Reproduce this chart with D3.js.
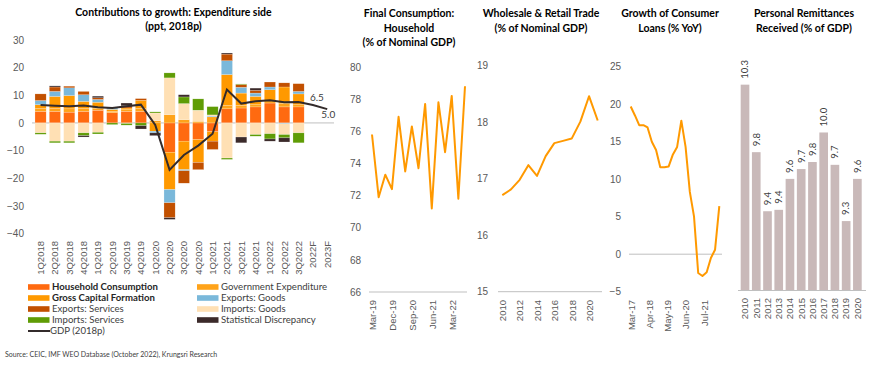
<!DOCTYPE html>
<html>
<head>
<meta charset="utf-8">
<script src="https://cdn.jsdelivr.net/npm/d3@7"></script>
<style>
  body { margin: 0; background: #fff; }
  svg { font-family: Lato, "Open Sans", sans-serif; }
</style>
</head>
<body>
<div id="wrapper"></div>
<script>
// ---- data: contributions to growth (ppt) ----
const quarters = ["1Q2018","2Q2018","3Q2018","4Q2018","1Q2019","2Q2019","3Q2019","4Q2019",
  "1Q2020","2Q2020","3Q2020","4Q2020","1Q2021","2Q2021","3Q2021","4Q2021",
  "1Q2022","2Q2022","3Q2022","2022F","2023F"]
const barQuarters = quarters.slice(0, 19) // forecasts have no breakdown
const householdConsumption = [4.2,4.2,3.9,4.2,4.6,3.7,4.2,4.2,0,-10.6,-6.6,-6.0,-3.2,5.1,5.4,5.8,7.2,5.8,5.8]
const governmentExpenditure = [1.0,1.0,1.2,1.0,0.6,0.5,0.6,1.0,0.8,3.0,1.2,0.6,2.2,1.2,1.0,0.8,1.0,1.2,0.8]
const grossCapitalFormation = [1.4,4.4,4.8,2.6,2.3,0.7,0.6,3.0,-3.0,-13.5,-10.3,-8.3,-3.4,11.2,4.4,3.0,3.8,6.0,3.9]
const exportsGoods = [1.5,1.8,2.8,2.4,1.0,0.6,0,0,-0.6,-4.8,-0.4,0,0.3,5.0,2.1,1.2,1.0,-0.3,0.9]
const exportsServices = [2.4,1.6,0.6,1.2,0.6,0,0.8,0.6,0,-5.4,-4.5,-2.6,-3.0,2.4,1.0,1.0,1.8,1.5,2.8]
const importsGoods = [-3.6,-6.6,-6.6,-3.6,-3.4,0,-0.2,0,2.8,13.3,5.8,4.0,0.4,-12.7,-5.1,-4.2,-3.9,-3.9,-3.6]
const importsServices = [-0.5,-0.6,-0.6,-1.0,-0.6,-0.6,-0.6,-1.0,0.4,1.8,2.4,4.1,3.0,-0.5,0.2,-0.6,-1.9,-1.2,-3.6]
const statDiscrepancy = [0,0.4,0,-0.5,0.6,0,1.0,-1.2,-1.0,-0.6,0.8,0,0,0.4,-2.1,0.8,-0.8,-1.5,0]
const gdpGrowth = [6.5,6.2,6.0,6.3,5.7,5.4,6.0,6.6,-0.7,-17.0,-11.6,-8.2,-3.9,12.1,7.0,7.8,8.2,7.5,7.6,6.5,5.0]
const contributionTicks = [-40,-30,-20,-10,0,10,20,30]

// ---- data: final consumption, household (% of nominal GDP) ----
const consumptionQuarters = ["Mar-19","Jun-19","Sep-19","Dec-19","Mar-20","Jun-20","Sep-20","Dec-20",
  "Mar-21","Jun-21","Sep-21","Dec-21","Mar-22","Jun-22","Sep-22"]
const consumptionShare = [75.8,71.9,73.3,72.4,76.9,73.5,76.3,73.7,77.7,71.2,77.8,74.7,78.2,71.8,78.8]
const consumptionTicks = [66,68,70,72,74,76,78,80]

// ---- data: wholesale & retail trade (% of nominal GDP) ----
const tradeYears = [2010,2011,2012,2013,2014,2015,2016,2017,2018,2019,2020,2021]
const tradeShare = [16.71,16.81,16.98,17.24,17.05,17.40,17.63,17.67,17.71,18.01,18.46,18.03]
const tradeTicks = [15,16,17,18,19]

// ---- data: growth of consumer loans (% YoY) ----
const loanMonths = ["2017-03","2017-06","2017-09","2017-12","2018-03","2018-06","2018-09","2018-12",
  "2019-03","2019-06","2019-09","2019-12","2020-03","2020-06","2020-09","2020-12",
  "2021-03","2021-06","2021-09","2021-12","2022-03","2022-06"]
const loanGrowth = [19.7,18.5,17.2,17.2,16.9,15.0,13.9,11.6,11.6,11.7,13.3,14.3,17.8,14.3,8.3,5.0,-2.5,-2.9,-2.4,-0.5,0.6,6.4]
const loanTickMonths = ["2017-03","2018-04","2019-05","2020-06","2021-07"]
const loanTicks = [-5,0,5,10,15,20,25]

// ---- data: personal remittances received (% of GDP) ----
const remittanceYears = ["2010","2011","2012","2013","2014","2015","2016","2017","2018","2019","2020"]
const remittanceShare = [10.31,9.83,9.41,9.42,9.64,9.71,9.76,9.97,9.74,9.34,9.64]

const components = [
  { key: "household", name: "Household Consumption", values: householdConsumption, color: "#FF6A10", bold: true },
  { key: "government", name: "Government Expenditure", values: governmentExpenditure, color: "#FFA31A" },
  { key: "capital", name: "Gross Capital Formation", values: grossCapitalFormation, color: "#FF9900", bold: true },
  { key: "exportsGoods", name: "Exports: Goods", values: exportsGoods, color: "#7AB8DA" },
  { key: "exportsServices", name: "Exports: Services", values: exportsServices, color: "#C25000" },
  { key: "importsGoods", name: "Imports: Goods", values: importsGoods, color: "#FFE0B4" },
  { key: "importsServices", name: "Imports: Services", values: importsServices, color: "#5F9C05" },
  { key: "statistical", name: "Statistical Discrepancy", values: statDiscrepancy, color: "#3B2A2A" }
]

const tickColor = "#595959"
const axisLineColor = "#BFBFBF"
const lineOrange = "#FF9900"

const svg = d3.select("#wrapper")
  .append("svg")
    .attr("width", 870)
    .attr("height", 365)

// helper: multi-line bold title centred on x
function addTitle(x, lines, firstBaseline) {
  svg.append("text")
      .attr("x", x)
      .attr("y", firstBaseline)
      .attr("text-anchor", "middle")
      .attr("font-weight", "bold")
      .attr("font-size", 10.5)
      .attr("fill", "#000")
    .selectAll("tspan")
    .data(lines)
    .join("tspan")
      .attr("x", x)
      .attr("dy", (d, i) => i === 0 ? 0 : 14.3)
      .text(d => d)
}

// helper: left value axis without domain line
function addValueAxis(scale, ticks, xRight) {
  const g = svg.append("g")
    .attr("transform", `translate(${xRight},0)`)
    .call(d3.axisLeft(scale).tickValues(ticks).tickFormat(d3.format("d")).tickSize(0).tickPadding(0))
  g.select(".domain").remove()
  g.selectAll("text").attr("fill", tickColor).attr("font-size", 10).attr("font-family", null)
}

// helper: vertical category labels hanging below y
function addRotatedLabels(axis, y) {
  const g = svg.append("g")
    .attr("transform", `translate(0,${y})`)
    .call(axis.tickSize(0))
  g.select(".domain").remove()
  g.selectAll("text")
    .attr("transform", "rotate(-90)")
    .attr("text-anchor", "end")
    .attr("x", 0)
    .attr("y", 0)
    .attr("dy", "0.35em")
    .attr("fill", tickColor)
    .attr("font-size", 9.5)
    .attr("font-family", null)
}

// ================= panel 1: contributions to growth =================
addTitle(173.5, ["Contributions to growth: Expenditure side", "(ppt, 2018p)"], 15.5)

const xQuarter = d3.scaleBand()
  .domain(quarters)
  .range([33.4, 334.4])
  .paddingInner(0.22)
  .paddingOuter(0.11)
const yContribution = d3.scaleLinear()
  .domain([-40, 30])
  .range([233.5, 40])

// zero line
svg.append("line")
  .attr("x1", 32).attr("x2", 334)
  .attr("y1", yContribution(0)).attr("y2", yContribution(0))
  .attr("stroke", axisLineColor)
  .attr("stroke-width", 1)

const contributionRows = barQuarters.map((q, i) => {
  const row = { quarter: q }
  components.forEach(c => { row[c.key] = c.values[i] })
  return row
})
const contributionStack = d3.stack()
  .keys(components.map(c => c.key))
  .offset(d3.stackOffsetDiverging)(contributionRows)

svg.append("g")
  .selectAll("g")
  .data(contributionStack)
  .join("g")
    .attr("fill", d => components.find(c => c.key === d.key).color)
  .selectAll("rect")
  .data(d => d)
  .join("rect")
    .attr("x", d => xQuarter(d.data.quarter))
    .attr("width", xQuarter.bandwidth())
    .attr("y", d => yContribution(Math.max(d[0], d[1])))
    .attr("height", d => Math.abs(yContribution(d[0]) - yContribution(d[1])))
    .attr("stroke", "#fff")
    .attr("stroke-opacity", 0.5)
    .attr("stroke-width", 0.4)

// GDP line
const gdpLine = d3.line()
  .x((d, i) => xQuarter(quarters[i]) + xQuarter.bandwidth() / 2)
  .y(d => yContribution(d))
svg.append("path")
  .attr("d", gdpLine(gdpGrowth))
  .attr("fill", "none")
  .attr("stroke", "#332B2B")
  .attr("stroke-width", 2)

// forecast labels
const xMid = q => xQuarter(q) + xQuarter.bandwidth() / 2
svg.append("text")
  .attr("x", xMid("2022F") + 4)
  .attr("y", yContribution(gdpGrowth[19]) - 4)
  .attr("text-anchor", "middle")
  .attr("font-size", 10)
  .attr("fill", "#404040")
  .text(d3.format(".1f")(gdpGrowth[19]))
svg.append("text")
  .attr("x", xMid("2023F") + 1)
  .attr("y", yContribution(gdpGrowth[20]) + 9)
  .attr("text-anchor", "middle")
  .attr("font-size", 10)
  .attr("fill", "#404040")
  .text(d3.format(".1f")(gdpGrowth[20]))

addValueAxis(yContribution, contributionTicks, 24)
addRotatedLabels(d3.axisBottom(xQuarter), 241)

// legend, two columns
const legendOrder = ["household", "government", "capital", "exportsGoods",
  "exportsServices", "importsGoods", "importsServices", "statistical"]
const legend = svg.append("g")
legendOrder.forEach((key, i) => {
  const c = components.find(d => d.key === key)
  const lx = i % 2 === 0 ? 28 : 197
  const ly = 287 + Math.floor(i / 2) * 11
  legend.append("rect")
    .attr("x", lx).attr("y", ly - 2.8)
    .attr("width", 21.5).attr("height", 5.6)
    .attr("fill", c.color)
  legend.append("text")
    .attr("x", lx + 24).attr("y", ly)
    .attr("dy", "0.35em")
    .attr("font-size", 9.6)
    .attr("font-weight", c.bold ? "bold" : "normal")
    .attr("fill", c.bold ? "#262626" : "#404040")
    .text(c.name)
})
legend.append("line")
  .attr("x1", 28).attr("x2", 50)
  .attr("y1", 331).attr("y2", 331)
  .attr("stroke", "#332B2B")
  .attr("stroke-width", 2)
legend.append("text")
  .attr("x", 50).attr("y", 331)
  .attr("dy", "0.35em")
  .attr("font-size", 9.6)
  .attr("fill", "#404040")
  .text("GDP (2018p)")

svg.append("text")
  .attr("x", 5).attr("y", 357)
  .attr("font-size", 7)
  .attr("fill", "#404040")
  .text("Source: CEIC, IMF WEO Database (October 2022), Krungsri Research")

// ================= panel 2: final consumption =================
addTitle(409, ["Final Consumption:", "Household", "(% of Nominal GDP)"], 17.3)

const xConsumption = d3.scalePoint()
  .domain(consumptionQuarters)
  .range([372, 465])
const yConsumption = d3.scaleLinear()
  .domain([66, 80])
  .range([292, 67])

svg.append("line")
  .attr("x1", 369).attr("x2", 467)
  .attr("y1", yConsumption(66)).attr("y2", yConsumption(66))
  .attr("stroke", axisLineColor)

svg.append("path")
  .attr("d", d3.line()
    .x((d, i) => xConsumption(consumptionQuarters[i]))
    .y(d => yConsumption(d))(consumptionShare))
  .attr("fill", "none")
  .attr("stroke", lineOrange)
  .attr("stroke-width", 2)
  .attr("stroke-linejoin", "round")

addValueAxis(yConsumption, consumptionTicks, 361)
addRotatedLabels(d3.axisBottom(xConsumption)
  .tickValues(consumptionQuarters.filter((d, i) => i % 3 === 0)), 300)

// ================= panel 3: wholesale & retail trade =================
addTitle(541, ["Wholesale & Retail Trade", "(% of Nominal GDP)"], 17.3)

const xTrade = d3.scalePoint()
  .domain(tradeYears)
  .range([502.3, 597.7])
const yTrade = d3.scaleLinear()
  .domain([15, 19])
  .range([291.7, 65.7])

svg.append("line")
  .attr("x1", 498).attr("x2", 602)
  .attr("y1", yTrade(15)).attr("y2", yTrade(15))
  .attr("stroke", axisLineColor)

svg.append("path")
  .attr("d", d3.line()
    .x((d, i) => xTrade(tradeYears[i]))
    .y(d => yTrade(d))(tradeShare))
  .attr("fill", "none")
  .attr("stroke", lineOrange)
  .attr("stroke-width", 2)
  .attr("stroke-linejoin", "round")

addValueAxis(yTrade, tradeTicks, 488)
addRotatedLabels(d3.axisBottom(xTrade)
  .tickValues(tradeYears.filter(y => y % 2 === 0))
  .tickFormat(d3.format("d")), 300)

// ================= panel 4: consumer loans =================
addTitle(670, ["Growth of Consumer", "Loans (% YoY)"], 17.3)

const parseMonth = d3.timeParse("%Y-%m")
const loanDates = loanMonths.map(parseMonth)
const xLoan = d3.scaleTime()
  .domain(d3.extent(loanDates))
  .range([630.7, 719.3])
const yLoan = d3.scaleLinear()
  .domain([-5, 25])
  .range([291.7, 66.7])

svg.append("line")
  .attr("x1", 629).attr("x2", 722)
  .attr("y1", yLoan(0)).attr("y2", yLoan(0))
  .attr("stroke", axisLineColor)

svg.append("path")
  .attr("d", d3.line()
    .x((d, i) => xLoan(loanDates[i]))
    .y(d => yLoan(d))(loanGrowth))
  .attr("fill", "none")
  .attr("stroke", lineOrange)
  .attr("stroke-width", 2)
  .attr("stroke-linejoin", "round")

addValueAxis(yLoan, loanTicks, 621)
addRotatedLabels(d3.axisBottom(xLoan)
  .tickValues(loanTickMonths.map(parseMonth))
  .tickFormat(d3.timeFormat("%b-%y")), 300)

// ================= panel 5: remittances =================
addTitle(804, ["Personal Remittances", "Received (% of GDP)"], 17.3)

const xRemit = d3.scaleBand()
  .domain(remittanceYears)
  .range([739.4, 863])
  .paddingInner(0.23)
  .paddingOuter(0.115)
const yRemit = d3.scaleLinear()
  .domain([8.85, 10.4])
  .range([290, 72])

svg.append("g")
  .selectAll("rect")
  .data(remittanceShare)
  .join("rect")
    .attr("x", (d, i) => xRemit(remittanceYears[i]))
    .attr("width", xRemit.bandwidth())
    .attr("y", d => yRemit(d))
    .attr("height", d => yRemit(8.85) - yRemit(d))
    .attr("fill", "#C9B9B9")

svg.append("line")
  .attr("x1", 738).attr("x2", 866)
  .attr("y1", 290.5).attr("y2", 290.5)
  .attr("stroke", axisLineColor)

svg.append("g")
  .selectAll("text")
  .data(remittanceShare)
  .join("text")
    .attr("transform", (d, i) =>
      `translate(${xRemit(remittanceYears[i]) + xRemit.bandwidth() / 2},${yRemit(d) - 6}) rotate(-90)`)
    .attr("dy", "0.35em")
    .attr("font-size", 9.5)
    .attr("fill", "#404040")
    .text(d => d3.format(".1f")(d))

addRotatedLabels(d3.axisBottom(xRemit), 298)
</script>
</body>
</html>
